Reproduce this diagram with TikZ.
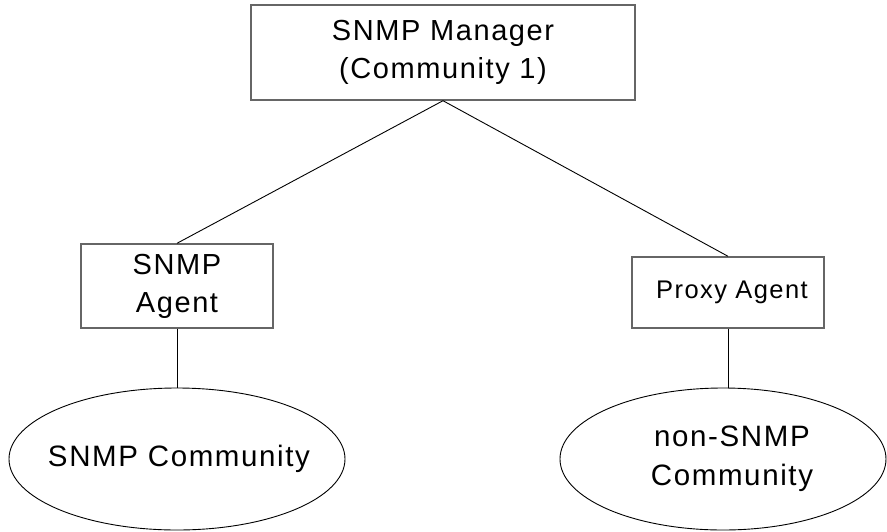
\documentclass[tikz,border=0pt]{standalone}
\usepackage{fontspec}
\setmainfont[LetterSpace=5.5]{Liberation Sans}
\usetikzlibrary{shapes.geometric}
\tikzset{
  boxnode/.style={draw=black!60, line width=1.4pt, rectangle, inner sep=0pt, align=center, font=\fontsize{29}{38}\selectfont},
  ellnode/.style={draw=black, line width=0.9pt, ellipse, inner sep=0pt, align=center, font=\fontsize{29.5}{39}\selectfont},
  link/.style={draw=black, line width=0.9pt}
}
\begin{document}
\begin{tikzpicture}[x=1pt,y=-1pt]
\useasboundingbox (0,0) rectangle (887,531);
\node[boxnode, minimum width=384pt, minimum height=95pt] (mgr) at (443,52.5) {SNMP Manager\\(Community 1)};
\node[boxnode, minimum width=192pt, minimum height=84pt] (agent) at (177,286) {SNMP\\Agent};
\node[boxnode, minimum width=192pt, minimum height=71pt, font=\fontsize{25.5}{32}\selectfont] (proxy) at (728,292.5) {\hspace{8pt}Proxy Agent};
\node[ellnode, minimum width=336pt, minimum height=142pt] (lell) at (177,459) {\makebox[0pt]{\hspace{4pt}SNMP Community}};
\node[ellnode, minimum width=326pt, minimum height=142pt] (rell) at (723,459) {\makebox[0pt]{\hspace{18pt}non-SNMP}\\\makebox[0pt]{\hspace{18pt}Community}};
\draw[link] (mgr.south) -- (agent.north);
\draw[link] (mgr.south) -- (proxy.north);
\draw[link] (agent.south) -- (lell.north);
\draw[link] (proxy.south) -- (proxy.south |- rell.north);
\end{tikzpicture}
\end{document}
